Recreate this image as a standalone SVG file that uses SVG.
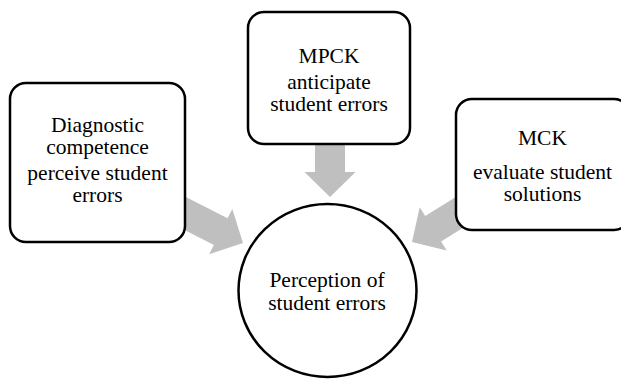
<svg xmlns="http://www.w3.org/2000/svg" width="621" height="379" viewBox="0 0 621 379">
<style>
.box{fill:#fff;stroke:#000;stroke-width:2.5}
.arr{fill:#bfbfbf;stroke:none}
text{font-family:"Liberation Serif","Times New Roman",serif;font-size:21.5px;fill:#000;text-anchor:middle}
</style>
<defs>
<path id="arrow" d="M0,0 L-25,-25.5 L-25,-15 L-80,-15 L-80,15 L-25,15 L-25,25.5 Z"/>
</defs>
<g id="connectors">
<use href="#arrow" class="arr" transform="translate(243,243) rotate(27)"/>
<use href="#arrow" class="arr" transform="translate(330,197) rotate(90)"/>
<use href="#arrow" class="arr" transform="translate(412,242) rotate(148)"/>
</g>
<g id="node-diagnostic">
<rect class="box" x="10" y="83" width="175" height="159" rx="16"/>
<text x="97.5" y="132">Diagnostic</text>
<text x="97.5" y="154">competence</text>
<text x="97.5" y="180">perceive student</text>
<text x="97.5" y="202">errors</text>
</g>
<g id="node-mpck">
<rect class="box" x="248" y="12" width="162" height="132" rx="16"/>
<text x="329" y="63">MPCK</text>
<text x="329" y="89">anticipate</text>
<text x="329" y="111">student errors</text>
</g>
<g id="node-mck">
<rect class="box" x="456" y="99" width="174" height="131" rx="16"/>
<text x="542.5" y="145">MCK</text>
<text x="542.5" y="179">evaluate student</text>
<text x="542.5" y="201">solutions</text>
</g>
<g id="node-perception">
<ellipse class="box" cx="327.5" cy="290.5" rx="89" ry="86.5"/>
<text x="327" y="287">Perception of</text>
<text x="327" y="310">student errors</text>
</g>
</svg>
